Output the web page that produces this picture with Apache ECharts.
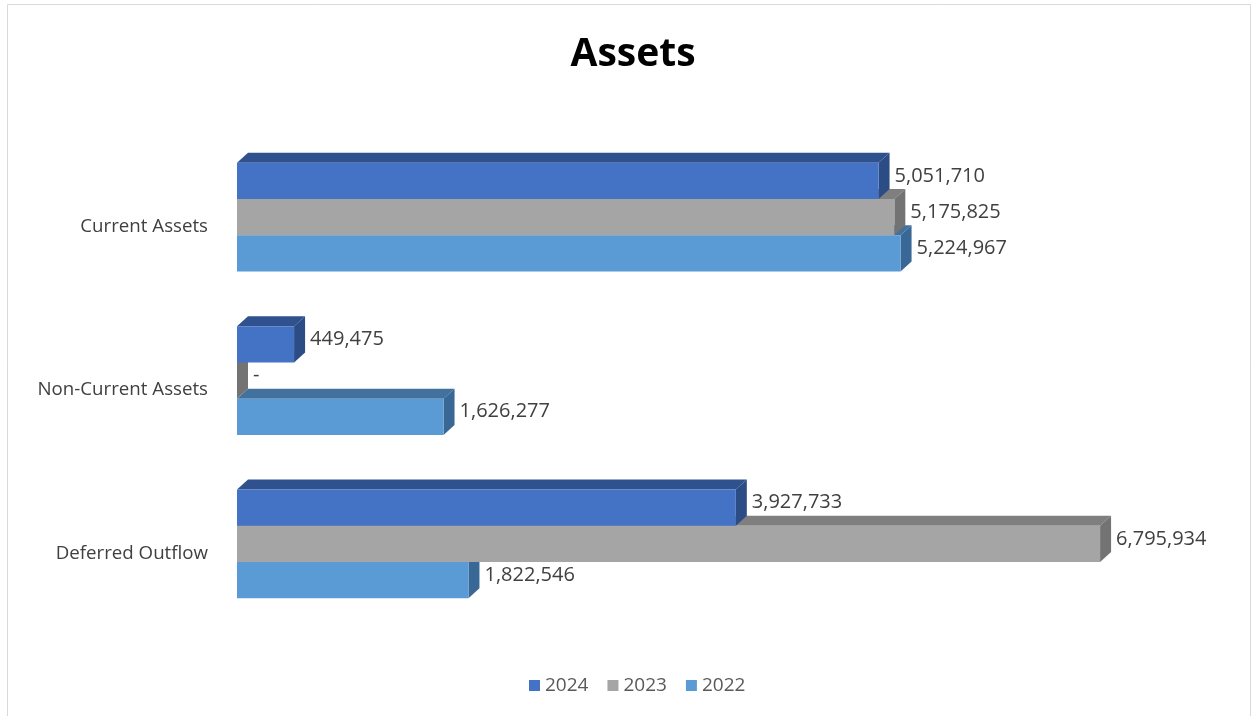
<!DOCTYPE html>
<html><head><meta charset="utf-8">
<script src="https://cdn.jsdelivr.net/npm/echarts@6/dist/echarts.min.js"></script>
<style>html,body{margin:0;padding:0;background:#fff}#chart{width:1253px;height:716px}</style>
</head><body><div id="chart"></div>
<script>
// ---- data ----
const categories = ['Current Assets', 'Non-Current Assets', 'Deferred Outflow'];
const years = ['2024', '2023', '2022'];
const values2024 = [5051710, 449475, 3927733];
const values2023 = [5175825, 0, 6795934];
const values2022 = [5224967, 1626277, 1822546];
const seriesValues = [values2024, values2023, values2022];

// ---- styles ----
const frontColors = ['#4472C4', '#A5A5A5', '#5B9BD5'];
const topColors = ['#2F528F', '#7F7F7F', '#41719C'];
const sideColors = ['#2B4C85', '#737373', '#3A6896'];
const FONT = '"Open Sans", "Liberation Sans", sans-serif';

function makeRender(k) {
  return function (params, api) {
    const ci = api.value(0);
    const v = api.value(1);
    const base = api.coord([0, ci]);
    const end = api.coord([v, ci]);
    const band = api.size([0, 1])[1];
    const barH = band * 0.222;
    const groupTop = base[1] - band * 0.391;
    const yt = groupTop + k * barH;
    const x0 = base[0], x1 = end[0];
    const dx = 11, dy = 10;
    const txt = v === 0 ? '-' : v.toLocaleString('en-US');
    return {
      type: 'group',
      children: [
        { type: 'polygon', shape: { points: [[x0, yt], [x0 + dx, yt - dy], [x1 + dx, yt - dy], [x1, yt]] }, style: { fill: topColors[k] } },
        { type: 'polygon', shape: { points: [[x1, yt], [x1 + dx, yt - dy], [x1 + dx, yt + barH - dy], [x1, yt + barH]] }, style: { fill: sideColors[k] } },
        { type: 'rect', shape: { x: x0, y: yt, width: Math.max(x1 - x0, 0), height: barH }, style: { fill: frontColors[k] } },
        { type: 'text', x: x1 + dx + 5, y: yt + barH / 2 - dy / 2,
          style: { text: txt, fontFamily: FONT, fontSize: 20, fill: '#404040', align: 'left', verticalAlign: 'middle' } }
      ]
    };
  };
}

const chart = echarts.init(document.getElementById('chart'), null, { renderer: 'canvas' });
chart.setOption({
  animation: false,
  backgroundColor: '#ffffff',
  color: frontColors,
  title: {
    text: 'Assets',
    left: 628, textAlign: 'center', top: 30,
    textStyle: { fontFamily: FONT, fontSize: 39, fontWeight: 'bold', color: '#000000' }
  },
  graphic: [{
    type: 'rect', shape: { x: 7.5, y: 4.5, width: 1243, height: 730 },
    style: { fill: 'none', stroke: '#D9D9D9', lineWidth: 1 }, silent: true, z: -1
  }],
  legend: {
    data: years, left: 524, top: 671,
    icon: 'rect', itemWidth: 11, itemHeight: 11, itemGap: 19,
    textStyle: { fontFamily: FONT, fontSize: 19, color: '#595959' }
  },
  grid: { left: 237, right: 127, top: 145, bottom: 81, containLabel: false },
  xAxis: { type: 'value', min: 0, max: 7000000, show: false },
  yAxis: {
    type: 'category', data: categories, inverse: true,
    axisLine: { show: false }, axisTick: { show: false }, splitLine: { show: false },
    axisLabel: { margin: 29, fontFamily: FONT, fontSize: 18.7, color: '#404040' }
  },
  series: years.map((y, k) => ({
    name: y, type: 'custom', z: 4 - k,
    itemStyle: { color: frontColors[k] },
    encode: { x: 1, y: 0 },
    renderItem: makeRender(k),
    data: categories.map((c, i) => [i, seriesValues[k][i]])
  }))
});
</script></body></html>
